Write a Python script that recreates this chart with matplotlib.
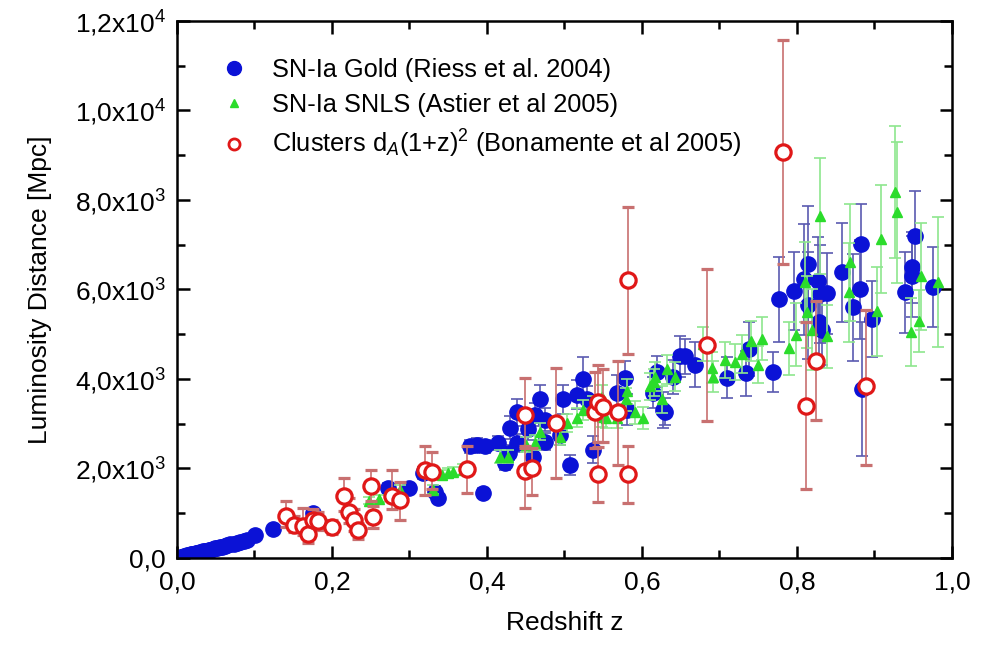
import matplotlib
matplotlib.use("Agg")
from matplotlib import pyplot as plt
from matplotlib.lines import Line2D
from matplotlib.ticker import MultipleLocator, FuncFormatter

plt.rcParams["font.family"] = ["Liberation Sans", "DejaVu Sans"]
plt.rcParams["mathtext.fontset"] = "custom"
plt.rcParams["mathtext.rm"] = "Liberation Sans"
plt.rcParams["mathtext.it"] = "Liberation Sans:italic"
plt.rcParams["font.size"] = 19

# SN-Ia Gold sample (Riess et al. 2004)
gold_z = [0.005, 0.007, 0.009, 0.011, 0.013, 0.015, 0.016, 0.018, 0.020, 0.022,
          0.024, 0.026, 0.028, 0.030, 0.032, 0.034, 0.036, 0.038, 0.041, 0.043,
          0.046, 0.049, 0.052, 0.055, 0.058, 0.062, 0.065, 0.069, 0.073, 0.077,
          0.081, 0.086, 0.090, 0.101, 0.124, 0.176,
          0.272, 0.300, 0.318, 0.337, 0.333, 0.395, 0.378, 0.387, 0.397, 0.414,
          0.423, 0.428, 0.430, 0.439, 0.439, 0.453, 0.459, 0.468, 0.462, 0.475,
          0.475, 0.494, 0.498, 0.507, 0.516, 0.524, 0.529, 0.537, 0.568, 0.578,
          0.581, 0.619, 0.627, 0.640, 0.649, 0.655, 0.668, 0.614, 0.630, 0.710,
          0.734, 0.738, 0.769, 0.777, 0.796, 0.809, 0.814, 0.814, 0.827, 0.830,
          0.839, 0.828, 0.832, 0.858, 0.872, 0.881, 0.897, 0.884, 0.939, 0.948,
          0.948, 0.975, 0.883, 0.952]
gold_d = [22, 30, 40, 48, 56, 64, 70, 78, 86, 95,
          104, 112, 121, 130, 138, 147, 155, 163, 176, 186,
          198, 212, 225, 238, 252, 268, 282, 300, 318, 336,
          352, 375, 395, 520, 650, 1010,
          1570, 1570, 1900, 1340, 1480, 1450, 2490, 2530, 2490, 2570,
          2130, 2350, 2910, 3250, 2570, 2870, 2260, 3540, 3200, 3090,
          2600, 2750, 3540, 2080, 3650, 3990, 3540, 2420, 3690, 4030,
          3310, 4160, 3310, 4050, 4500, 4500, 4320, 3690, 3270, 4030,
          4120, 4660, 4160, 5780, 5960, 6220, 6560, 5640, 6180, 5890,
          5910, 5260, 5100, 6380, 5600, 6000, 5330, 3780, 5930, 6490,
          6290, 6050, 7010, 7190]
gold_err = [2, 3, 3, 4, 4, 5, 5, 6, 6, 7,
            7, 8, 8, 9, 10, 10, 11, 11, 12, 13,
            14, 15, 16, 17, 18, 19, 20, 21, 22, 24,
            25, 26, 28, 36, 45, 90,
            110, 110, 130, 120, 120, 110, 150, 150, 150, 160,
            160, 170, 260, 300, 200, 230, 200, 330, 260, 250,
            200, 220, 320, 230, 320, 490, 300, 300, 400, 380,
            350, 350, 400, 380, 450, 400, 500, 350, 300, 450,
            500, 600, 450, 950, 870, 1250, 1300, 1200, 1000, 1100,
            900, 1000, 800, 1100, 1200, 1100, 850, 1500, 900, 800,
            900, 900, 900, 1000]

# SN-Ia SNLS sample (Astier et al 2005)
snls_z = [0.248, 0.261, 0.284, 0.288, 0.330, 0.342, 0.350, 0.356, 0.369, 0.417,
          0.427, 0.450, 0.462, 0.468, 0.494, 0.503, 0.516, 0.524, 0.537, 0.548,
          0.553, 0.549, 0.568, 0.581, 0.580, 0.601, 0.591, 0.610, 0.615, 0.617,
          0.626, 0.632, 0.643, 0.679, 0.690, 0.692, 0.707, 0.720, 0.729, 0.741,
          0.750, 0.755, 0.790, 0.799, 0.810, 0.813, 0.819, 0.830, 0.839, 0.868,
          0.867, 0.903, 0.908, 0.926, 0.929, 0.947, 0.957, 0.960, 0.982]
snls_d = [1280, 1320, 1340, 1520, 1520, 1860, 1900, 1930, 1970, 2260,
          2260, 2530, 2570, 2820, 2710, 3020, 3130, 3310, 3380, 3600,
          3130, 3150, 3130, 3720, 3540, 3130, 3250, 3830, 3920, 4050,
          3540, 4210, 4050, 4770, 4250, 4050, 4430, 4370, 4550, 4840,
          4320, 4900, 4680, 4990, 6160, 5490, 5100, 7640, 4950, 6600,
          5930, 5510, 7120, 8170, 7720, 5040, 5300, 6290, 6160]
snls_err = [80, 80, 90, 100, 100, 110, 110, 110, 120, 150,
            150, 170, 170, 190, 180, 200, 210, 220, 230, 260,
            230, 220, 230, 280, 260, 250, 250, 300, 300, 320,
            300, 330, 330, 380, 350, 340, 400, 400, 420, 450,
            420, 480, 600, 700, 900, 800, 900, 1300, 700, 1300,
            1100, 1000, 1200, 1480, 1570, 760, 690, 1200, 1450]

# Galaxy clusters d_A(1+z)^2 (Bonamente et al 2005)
cl_z = [0.141, 0.151, 0.163, 0.169, 0.176, 0.182, 0.200, 0.215, 0.222, 0.228,
        0.233, 0.250, 0.253, 0.277, 0.288, 0.320, 0.329, 0.374, 0.449, 0.449,
        0.458, 0.489, 0.539, 0.543, 0.550, 0.569, 0.543, 0.582, 0.582, 0.684,
        0.782, 0.811, 0.824, 0.889]
cl_d = [940, 740, 720, 540, 850, 830, 690, 1390, 1030, 850,
        630, 1610, 920, 1390, 1300, 1970, 1930, 1990, 3200, 1950,
        2010, 3020, 3250, 3490, 3380, 3250, 1880, 1880, 6200, 4750,
        9070, 3400, 4410, 3830]
cl_lo = [250, 150, 200, 200, 200, 200, 150, 350, 250, 250,
         200, 330, 250, 300, 450, 560, 400, 540, 700, 830,
         600, 1230, 800, 900, 800, 1170, 630, 650, 1650, 1700,
         2500, 1870, 1320, 1750]
cl_hi = [340, 200, 400, 250, 250, 200, 150, 400, 300, 250,
         150, 360, 250, 580, 400, 540, 430, 500, 830, 500,
         450, 1230, 900, 830, 850, 1140, 600, 630, 1650, 1700,
         2500, 1870, 1320, 1700]

fig = plt.figure(figsize=(9.86, 6.48), dpi=100)
ax = fig.add_axes([0.1795, 0.139, 0.786, 0.829])

ax.errorbar(gold_z, gold_d, yerr=gold_err, fmt="o", ms=11, color="#0b12d6",
            ecolor="#5a5ab0", elinewidth=1.2, capsize=4, capthick=1.2, zorder=2)
ax.errorbar(snls_z, snls_d, yerr=snls_err, fmt="^", ms=7, color="#2bdc2b",
            ecolor="#8ee68e", elinewidth=1.2, capsize=4, capthick=1.2, zorder=3)
ax.errorbar(cl_z, cl_d, yerr=[cl_lo, cl_hi], fmt="o", ms=11, mfc="white",
            mec="#e01818", mew=2.3, ecolor="#c87070", elinewidth=1.2,
            capsize=4, capthick=1.2, zorder=4)

ax.set_xlim(0, 1.0)
ax.set_ylim(0, 12000)
ax.xaxis.set_major_locator(MultipleLocator(0.2))
ax.xaxis.set_minor_locator(MultipleLocator(0.1))
ax.yaxis.set_major_locator(MultipleLocator(2000))
ax.yaxis.set_minor_locator(MultipleLocator(1000))


def yfmt(v, pos):
    if v == 0:
        return "0,0"
    if v >= 10000:
        return ("%.1f" % (v / 1e4)).replace(".", ",") + r"x10$^4$"
    return ("%.1f" % (v / 1e3)).replace(".", ",") + r"x10$^3$"


ax.yaxis.set_major_formatter(FuncFormatter(yfmt))
ax.xaxis.set_major_formatter(FuncFormatter(lambda v, p: ("%.1f" % v).replace(".", ",")))

ax.tick_params(which="both", direction="in", top=True, right=True, width=1.8)
ax.tick_params(which="major", length=9, labelsize=19)
ax.tick_params(which="minor", length=5.5)
ax.tick_params(axis="x", pad=9)
ax.tick_params(axis="y", pad=8)
for s in ax.spines.values():
    s.set_linewidth(1.8)

ax.set_xlabel("Redshift z", fontsize=19, labelpad=12)
ax.set_ylabel("Luminosity Distance [Mpc]", fontsize=19, labelpad=16)

handles = [
    Line2D([], [], ls="none", marker="o", ms=10, color="#0b12d6"),
    Line2D([], [], ls="none", marker="^", ms=6, color="#2bdc2b"),
    Line2D([], [], ls="none", marker="o", ms=8, mfc="white", mec="#e01818", mew=2.0),
]
labels = ["SN-Ia Gold (Riess et al. 2004)",
          "SN-Ia SNLS (Astier et al 2005)",
          r"Clusters d$_A$(1+z)$^2$ (Bonamente et al 2005)"]
ax.legend(handles, labels, loc="upper left", bbox_to_anchor=(0.057, 0.93),
          frameon=False, handlelength=1.0, handletextpad=1.0, labelspacing=0.42,
          borderaxespad=0, borderpad=0, fontsize=18.3)

fig.savefig("out.png", dpi=100)
